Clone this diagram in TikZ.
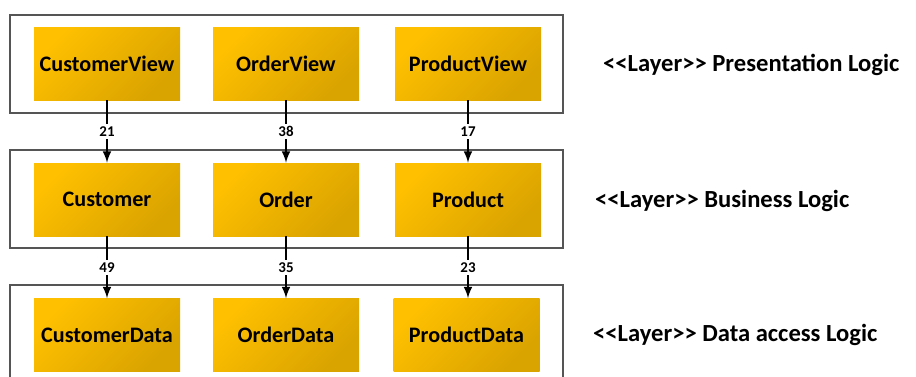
\documentclass[tikz,border=0pt]{standalone}
\usepackage{fontspec}
\setmainfont{Carlito}
\usepackage{tikz}
\usetikzlibrary{positioning}
\tikzset{>=latex}
\definecolor{boxlight}{HTML}{FFC000}
\definecolor{boxdark}{HTML}{D9A300}
\definecolor{layergray}{HTML}{555555}
\tikzset{
    classbox/.style={minimum width=2.92cm, minimum height=1.46cm, inner sep=0pt,
        top color=boxlight, bottom color=boxdark, shading angle=45,
        font=\fontsize{12.6}{15}\selectfont\bfseries},
    layerframe/.style={draw=layergray, line width=0.8pt},
    dep/.style={->, line width=1.2pt},
    count/.style={fill=white, inner sep=1.5pt, font=\fontsize{8.5}{10}\selectfont\bfseries},
    layername/.style={anchor=west, font=\fontsize{14}{17}\selectfont\bfseries}
}

\begin{document}
\begin{tikzpicture}
    \useasboundingbox(0, 0)rectangle(18.32, 7.52);
    % layers
    \draw[layerframe](0.2, 5.26)rectangle(11.26, 7.22);
    \draw[layerframe](0.2, 2.56)rectangle(11.26, 4.52);
    \draw[layerframe](0.2, -0.1)|-(11.26, 1.82)--(11.26, -0.1);
    % classes
    \node[classbox](cv)at(2.14, 6.25){CustomerView};
    \node[classbox](ov)at(5.72, 6.25){OrderView};
    \node[classbox](pv)at(9.36, 6.25){ProductView};
    \node[classbox](c)at(2.14, 3.53){Customer};
    \node[classbox](o)at(5.72, 3.53){Order};
    \node[classbox](p)at(9.36, 3.53){Product};
    \node[classbox](cd)at(2.14, 0.82){CustomerData};
    \node[classbox](od)at(5.72, 0.82){OrderData};
    \node[classbox](pd)at(9.33, 0.82){ProductData};
    % layer names
    \node[layername](pl)at(11.94, 6.23){<{}<Layer>{}> Presentation Logic};
    \node[layername](bl)at(11.78, 3.51){<{}<Layer>{}> Business Logic};
    \node[layername](dl)at(11.74, 0.82){<{}<Layer>{}> Data access Logic};
    % dependencies
    \draw[dep](cv)--node[count]{21}(c);
    \draw[dep](ov)--node[count]{38}(o);
    \draw[dep](pv)--node[count]{17}(p);
    \draw[dep](c)--node[count]{49}(cd);
    \draw[dep](o)--node[count]{35}(od);
    \draw[dep](p.south)--node[count]{23}(p.south|-pd.north);
\end{tikzpicture}
\end{document}
